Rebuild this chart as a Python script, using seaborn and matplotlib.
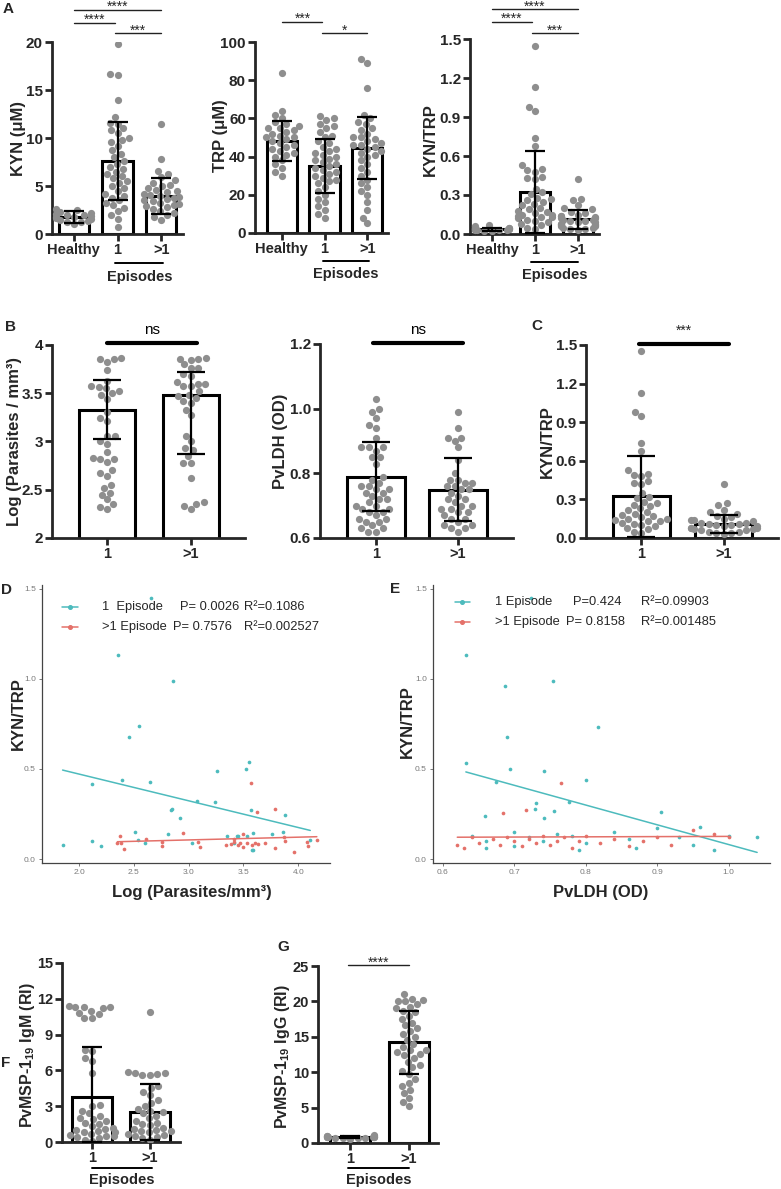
import numpy as np
import pandas as pd
import matplotlib.pyplot as plt
import matplotlib.transforms as mtransforms
from matplotlib.lines import Line2D
import seaborn as sns

W, H = 781, 1189

# ---------------- data ----------------
groups3 = ['Healthy', '1', '>1']
groups2 = ['1', '>1']

kyn_healthy = [1.0, 1.2, 1.3, 1.4, 1.5, 1.6, 1.7, 1.8, 1.8, 1.9, 2.0, 2.0, 2.1, 2.2, 2.3, 2.5, 2.6]
kyn_one = [19.8, 16.7, 16.6, 14.0, 12.2, 11.6, 11.5, 11.0, 10.8, 10.5, 10.0, 9.8, 9.6, 9.2, 8.7, 8.3,
           8.0, 7.6, 7.3, 7.0, 6.8, 6.5, 6.2, 6.0, 5.8, 5.5, 5.3, 5.0, 4.8, 4.5, 4.2, 4.0, 3.8, 3.5,
           3.2, 3.0, 2.7, 2.4, 2.0, 1.6, 0.7]
kyn_more = [11.5, 7.8, 6.6, 6.3, 5.9, 5.6, 5.3, 5.1, 5.0, 4.8, 4.6, 4.5, 4.4, 4.2, 4.1, 4.0, 3.9, 3.8,
            3.6, 3.5, 3.4, 3.2, 3.1, 3.0, 2.9, 2.8, 2.6, 2.4, 2.2, 2.0, 1.8, 1.5]
kyn_mean = [1.75, 7.6, 3.95]
kyn_sd = [0.6, 4.05, 1.85]

trp_healthy = [84, 64, 62, 60, 58, 57, 56, 55, 55, 54, 53, 52, 51, 50, 50, 49, 48, 47, 46, 45, 44,
               43, 42, 41, 40, 38, 36, 34, 32, 30]
trp_one = [61, 60, 59, 57, 56, 55, 53, 51, 50, 48, 47, 45, 44, 43, 42, 41, 40, 39, 38, 37, 36, 35,
           34, 33, 32, 31, 30, 29, 28, 27, 26, 24, 22, 20, 18, 16, 14, 12, 10, 8]
trp_more = [91, 89, 76, 62, 60, 58, 57, 55, 54, 52, 50, 50, 49, 48, 47, 46, 46, 45, 44, 43, 42, 41,
            40, 38, 36, 34, 32, 30, 28, 26, 24, 22, 20, 16, 12, 8, 5]
trp_mean = [48.0, 35.2, 44.5]
trp_sd = [10.5, 14.0, 16.2]

kt_healthy = [0.02, 0.03, 0.03, 0.03, 0.04, 0.04, 0.04, 0.05, 0.05, 0.06, 0.02, 0.03, 0.05, 0.07, 0.04]
kt_one = [1.45, 1.13, 0.98, 0.95, 0.74, 0.68, 0.53, 0.50, 0.49, 0.48, 0.44, 0.43, 0.42, 0.35, 0.32,
          0.31, 0.28, 0.27, 0.26, 0.25, 0.23, 0.22, 0.20, 0.19, 0.18, 0.17, 0.16, 0.15, 0.15, 0.14,
          0.13, 0.13, 0.12, 0.11, 0.10, 0.09, 0.08, 0.07, 0.05, 0.04]
kt_more = [0.42, 0.27, 0.26, 0.22, 0.20, 0.19, 0.17, 0.16, 0.15, 0.14, 0.14, 0.13, 0.12, 0.12, 0.11,
           0.11, 0.10, 0.10, 0.09, 0.09, 0.08, 0.08, 0.08, 0.07, 0.07, 0.06, 0.06, 0.05, 0.05, 0.04,
           0.04, 0.03]
kt_mean = [0.035, 0.325, 0.112]
kt_sd = [0.015, 0.315, 0.07]

para_one = [3.87, 3.85, 3.86, 3.82, 3.74, 3.63, 3.57, 3.56, 3.55, 3.52, 3.50, 3.48, 3.44, 3.31, 3.24,
            3.21, 3.06, 3.06, 3.00, 2.97, 2.89, 2.83, 2.82, 2.82, 2.79, 2.70, 2.67, 2.64, 2.55, 2.52,
            2.47, 2.45, 2.40, 2.35, 2.32, 2.30]
para_more = [3.87, 3.86, 3.85, 3.84, 3.80, 3.76, 3.76, 3.70, 3.68, 3.62, 3.60, 3.60, 3.58, 3.57, 3.52,
             3.48, 3.47, 3.45, 3.42, 3.40, 3.33, 3.27, 3.06, 3.00, 2.93, 2.91, 2.85, 2.78, 2.78, 2.62,
             2.37, 2.35, 2.33, 2.30]
para_mean = [3.33, 3.48]
para_err_lo = [0.30, 0.61]
para_err_hi = [0.31, 0.24]

ldh_one = [1.03, 1.00, 0.99, 0.97, 0.95, 0.94, 0.91, 0.88, 0.88, 0.88, 0.87, 0.85, 0.85, 0.83, 0.79,
           0.78, 0.77, 0.76, 0.76, 0.75, 0.75, 0.74, 0.74, 0.73, 0.72, 0.72, 0.71, 0.70, 0.70, 0.69,
           0.69, 0.68, 0.68, 0.67, 0.66, 0.66, 0.65, 0.65, 0.64, 0.63, 0.63, 0.62, 0.62]
ldh_more = [0.99, 0.94, 0.91, 0.91, 0.90, 0.88, 0.84, 0.80, 0.78, 0.78, 0.77, 0.77, 0.76, 0.76, 0.75,
            0.75, 0.74, 0.73, 0.72, 0.72, 0.71, 0.70, 0.70, 0.69, 0.69, 0.68, 0.68, 0.67, 0.66, 0.66,
            0.65, 0.64, 0.64, 0.63, 0.63, 0.62]
ldh_mean = [0.789, 0.749]
ldh_sd = [0.107, 0.097]

d_x_one = [2.66, 2.36, 2.86, 2.55, 2.46, 3.55, 3.52, 3.26, 2.39, 2.65, 2.12, 3.08, 3.24, 2.85, 2.84,
           3.57, 3.88, 2.92, 1.85, 2.12, 2.51, 2.54, 2.81, 3.03, 3.35, 3.41, 3.45, 3.53, 3.58, 3.44,
           3.59, 3.76, 3.86, 3.59, 4.11, 2.20, 2.60]
d_y_one = [1.45, 1.13, 0.99, 0.74, 0.675, 0.54, 0.50, 0.49, 0.44, 0.43, 0.415, 0.32, 0.315, 0.28, 0.27,
           0.27, 0.245, 0.23, 0.077, 0.10, 0.15, 0.105, 0.14, 0.09, 0.13, 0.09, 0.125, 0.125, 0.05, 0.13,
           0.145, 0.14, 0.15, 0.05, 0.105, 0.07, 0.09]
d_x_more = [3.57, 3.62, 3.79, 2.35, 2.37, 2.38, 2.41, 2.61, 2.76, 2.76, 2.95, 3.09, 3.10, 3.34, 3.39,
            3.41, 3.45, 3.50, 3.53, 3.58, 3.61, 3.41, 3.47, 3.50, 3.63, 3.70, 3.79, 3.87, 3.88, 3.96,
            4.08, 4.09, 4.17]
d_y_more = [0.42, 0.26, 0.28, 0.09, 0.13, 0.09, 0.055, 0.11, 0.095, 0.075, 0.145, 0.095, 0.065, 0.08,
            0.085, 0.11, 0.08, 0.14, 0.09, 0.08, 0.09, 0.095, 0.09, 0.067, 0.085, 0.09, 0.06, 0.12,
            0.10, 0.04, 0.095, 0.07, 0.105]

e_x_one = [0.632, 0.723, 0.754, 0.687, 0.817, 0.69, 0.632, 0.694, 0.741, 0.674, 0.80, 0.776, 0.73,
           0.729, 0.755, 0.659, 0.741, 0.905, 0.64, 0.66, 0.70, 0.72, 0.74, 0.76, 0.78, 0.80, 0.84,
           0.86, 0.90, 0.93, 0.96, 0.98, 1.00, 1.04, 0.95, 0.66, 0.70, 0.79, 0.87]
e_y_one = [1.13, 1.45, 0.985, 0.96, 0.735, 0.675, 0.53, 0.50, 0.49, 0.425, 0.44, 0.315, 0.31, 0.28,
           0.265, 0.24, 0.23, 0.26, 0.13, 0.10, 0.15, 0.12, 0.10, 0.14, 0.13, 0.09, 0.15, 0.11, 0.17,
           0.12, 0.18, 0.05, 0.13, 0.12, 0.08, 0.06, 0.07, 0.05, 0.06]
e_x_more = [0.765, 0.684, 0.716, 0.62, 0.63, 0.64, 0.65, 0.67, 0.68, 0.69, 0.70, 0.71, 0.72, 0.73,
            0.74, 0.75, 0.76, 0.77, 0.78, 0.79, 0.80, 0.82, 0.84, 0.86, 0.88, 0.90, 0.92, 0.95, 0.98, 1.00]
e_y_more = [0.42, 0.255, 0.27, 0.08, 0.06, 0.12, 0.09, 0.11, 0.08, 0.12, 0.10, 0.07, 0.11, 0.09, 0.13,
            0.08, 0.10, 0.12, 0.06, 0.10, 0.13, 0.09, 0.11, 0.07, 0.10, 0.12, 0.08, 0.16, 0.14, 0.12]

igm_one = [11.4, 11.3, 11.3, 11.3, 11.2, 11.0, 10.8, 10.7, 10.4, 10.4, 7.7, 7.6, 7.0, 6.8, 5.8, 3.1,
           3.0, 2.6, 2.4, 2.2, 2.0, 1.9, 1.8, 1.6, 1.5, 1.3, 1.2, 1.1, 1.0, 0.9, 0.8, 0.8, 0.7, 0.6,
           0.5, 0.5, 0.4, 0.3, 0.2, 0.1]
igm_more = [10.9, 5.9, 5.8, 5.8, 5.7, 5.6, 5.6, 4.7, 4.5, 4.2, 3.9, 3.5, 3.3, 3.0, 2.8, 2.6, 2.5, 2.4,
            2.2, 2.0, 1.8, 1.6, 1.5, 1.4, 1.2, 1.1, 1.0, 0.9, 0.9, 0.8, 0.7, 0.6, 0.5, 0.4, 0.3, 0.2]
igm_mean = [3.8, 2.55]
igm_err_lo = [3.8, 2.38]
igm_err_hi = [4.2, 2.32]

igg_one = [0.6, 0.7, 0.7, 0.75, 0.8, 0.8, 0.8, 0.85, 0.9, 0.9, 0.95, 1.0, 1.0, 1.1, 0.7]
igg_more = [21.0, 20.4, 20.2, 20.1, 20.0, 19.6, 19.2, 19.0, 18.7, 18.5, 18.0, 17.5, 17.0, 16.6, 16.2,
            15.8, 15.4, 15.0, 14.5, 14.0, 13.6, 13.2, 13.1, 12.8, 12.6, 12.4, 12.0, 11.5, 11.0, 10.7,
            10.2, 9.8, 9.0, 8.5, 8.0, 7.5, 7.0, 6.3, 5.8, 5.2]
igg_mean = [0.85, 14.2]
igg_sd = [0.15, 4.5]

# ---------------- style ----------------
sns.set_style('ticks')
plt.rcParams['font.family'] = ['Liberation Sans', 'DejaVu Sans']
plt.rcParams['font.weight'] = 'bold'
plt.rcParams['mathtext.fontset'] = 'custom'
plt.rcParams['mathtext.rm'] = 'Liberation Sans:bold'
plt.rcParams['mathtext.bf'] = 'Liberation Sans:bold'
plt.rcParams['mathtext.it'] = 'Liberation Sans:bold'

GRAY = '#8e8e8e'
TEAL = '#4DBBBD'
RED = '#E4716A'

fig = plt.figure(figsize=(W / 100, H / 100), dpi=100)


def fy(py):
    return 1 - py / H


def panel(box):
    x0, y0, x1, y1 = box
    return fig.add_axes([x0 / W, 1 - y1 / H, (x1 - x0) / W, (y1 - y0) / H])


def bar_panel(box, order, values, means, err, ylim, yticks, ylabels, xlim, width=0.7, capsize=7,
              ticksize=11):
    ax = panel(box)
    df = pd.DataFrame({'grp': np.repeat(order, [len(v) for v in values]),
                       'val': np.concatenate(values)})
    sns.barplot(x=order, y=means, order=order, ax=ax, color='white', edgecolor='black',
                linewidth=2.2, width=width, errorbar=None, saturation=1)
    sns.swarmplot(data=df, x='grp', y='val', order=order, ax=ax, color=GRAY, size=5.2,
                  warn_thresh=1, zorder=3)
    ax.errorbar(range(len(order)), means, yerr=err, fmt='none', ecolor='black',
                elinewidth=1.6, capsize=capsize, capthick=1.6, zorder=5)
    ax.set_xlim(*xlim)
    ax.set_ylim(*ylim)
    ax.set_yticks(yticks)
    ax.set_yticklabels(ylabels)
    ax.set_xlabel('')
    ax.set_ylabel('')
    for s in ['top', 'right']:
        ax.spines[s].set_visible(False)
    for s in ['left', 'bottom']:
        ax.spines[s].set_linewidth(2.0)
    ax.tick_params(width=2.0, length=5, labelsize=ticksize, pad=1.5)
    ax.tick_params(axis='x', labelsize=10.5)
    return ax


def sig(ax, x0, x1, py, text, ty, lw=1.0, size=9, color='#222222'):
    tr = mtransforms.blended_transform_factory(ax.transData, fig.transFigure)
    ax.plot([x0, x1], [fy(py), fy(py)], color=color, lw=lw, transform=tr, clip_on=False)
    ax.text((x0 + x1) / 2, fy(ty), text, transform=tr, ha='center', va='center',
            fontsize=size, fontweight='normal', color='black')


def stars(ax, x0, x1, py, text, cy):
    sig(ax, x0, x1, py, '', cy)
    tr = mtransforms.blended_transform_factory(ax.transData, fig.transFigure)
    ax.text((x0 + x1) / 2, fy(cy + 7), text, transform=tr, ha='center', va='baseline',
            fontsize=10, fontweight='normal')


def episodes(ax, x0, x1, py, ty):
    tr = mtransforms.blended_transform_factory(ax.transData, fig.transFigure)
    ax.plot([x0, x1], [fy(py), fy(py)], color='black', lw=1.4, transform=tr, clip_on=False)
    ax.text((x0 + x1) / 2, fy(ty), 'Episodes', transform=tr, ha='center', va='center',
            fontsize=10.5)


def ylab(px, py, text, size=12):
    fig.text(px / W, fy(py), text, rotation=90, ha='center', va='center', fontsize=size)


def letter(px, py, text):
    fig.text(px / W, fy(py), text, ha='center', va='center', fontsize=11)


# ---------------- panel A ----------------
a1 = bar_panel((52, 42, 183, 234), groups3, [kyn_healthy, kyn_one, kyn_more], kyn_mean, kyn_sd,
               (0, 20), [0, 5, 10, 15, 20], ['0', '5', '10', '15', '20'], (-0.5, 2.5), capsize=7)
stars(a1, 0, 2, 10, '****', 4)
stars(a1, 0, 0.95, 23, '****', 17)
stars(a1, 0.95, 2, 33, '***', 28)
episodes(a1, 0.95, 2.05, 263, 277)
ylab(19, 138, 'KYN (μM)')

a2 = bar_panel((255, 42, 388, 233), groups3, [trp_healthy, trp_one, trp_more], trp_mean, trp_sd,
               (0, 100), [0, 20, 40, 60, 80, 100], ['0', '20', '40', '60', '80', '100'],
               (-0.62, 2.48), capsize=7)
stars(a2, 0.02, 0.95, 22, '***', 16)
stars(a2, 0.95, 2.0, 33, '*', 28)
episodes(a2, 0.97, 2.03, 261, 274)
ylab(221, 136, 'TRP (μM)')

a3 = bar_panel((470, 39, 599, 234), groups3, [kt_healthy, kt_one, kt_more], kt_mean, kt_sd,
               (0, 1.5), [0, 0.3, 0.6, 0.9, 1.2, 1.5], ['0.0', '0.3', '0.6', '0.9', '1.2', '1.5'],
               (-0.51, 2.49), capsize=7)
stars(a3, 0, 2, 9, '****', 4)
stars(a3, 0, 0.93, 22, '****', 16)
stars(a3, 0.93, 2, 33, '***', 28)
episodes(a3, 0.9, 2.0, 262, 275)
ylab(430, 140, 'KYN/TRP')
letter(8, 9, 'A')

# ---------------- panel B / C ----------------
b1 = bar_panel((52, 345, 245, 538), groups2, [para_one, para_more], para_mean,
               [para_err_lo, para_err_hi], (2, 4), [2, 2.5, 3, 3.5, 4],
               ['2', '2.5', '3', '3.5', '4'], (-0.66, 1.65), width=0.67, capsize=10)
sig(b1, 0, 1.07, 343, 'ns', 330, lw=3, size=11, color='black')
ylab(15, 441, 'Log (Parasites / mm³)')

b2 = bar_panel((320, 344, 513, 538), groups2, [ldh_one, ldh_more], ldh_mean, ldh_sd,
               (0.6, 1.2), [0.6, 0.8, 1.0, 1.2], ['0.6', '0.8', '1.0', '1.2'],
               (-0.68, 1.67), width=0.7, capsize=10)
sig(b2, -0.04, 1.06, 343, 'ns', 330, lw=3, size=11, color='black')
ylab(280, 441, 'PvLDH (OD)')

c1 = bar_panel((586, 345, 778, 538), groups2, [kt_one, kt_more], kt_mean[1:], kt_sd[1:],
               (0, 1.5), [0, 0.3, 0.6, 0.9, 1.2, 1.5], ['0.0', '0.3', '0.6', '0.9', '1.2', '1.5'],
               (-0.67, 1.66), width=0.69, capsize=10)
tr = mtransforms.blended_transform_factory(c1.transData, fig.transFigure)
c1.plot([-0.03, 1.06], [fy(344), fy(344)], color='black', lw=3, transform=tr, clip_on=False)
c1.text(0.515, fy(335), '***', transform=tr, ha='center', va='baseline', fontsize=10,
        fontweight='normal')
ylab(547, 442, 'KYN/TRP')
letter(10, 327, 'B')
letter(537, 326, 'C')


# ---------------- panels D / E ----------------
def scatter_panel(box, x1, y1, x2, y2, xlim, xticks):
    ax = panel(box)
    sns.scatterplot(x=x1, y=y1, ax=ax, color=TEAL, s=7, linewidth=0)
    sns.scatterplot(x=x2, y=y2, ax=ax, color=RED, s=7, linewidth=0)
    sns.regplot(x=x1, y=y1, ax=ax, scatter=False, ci=None, color=TEAL, line_kws={'lw': 1.1})
    sns.regplot(x=x2, y=y2, ax=ax, scatter=False, ci=None, color=RED, line_kws={'lw': 1.1})
    ax.set_xlim(*xlim)
    ax.set_ylim(-0.022, 1.52)
    ax.set_xticks(xticks)
    ax.set_xticklabels([f'{t:.1f}' for t in xticks])
    ax.set_yticks([0, 0.5, 1.0, 1.5])
    ax.set_yticklabels(['0.0', '0.5', '1.0', '1.5'])
    ax.set_xlabel('')
    ax.set_ylabel('')
    for s in ['top', 'right']:
        ax.spines[s].set_visible(False)
    for s in ['left', 'bottom']:
        ax.spines[s].set_linewidth(0.9)
        ax.spines[s].set_color('#444444')
    ax.tick_params(width=0.7, length=2.5, labelsize=6, colors='#7a7a7a', pad=2)
    for lbl in ax.get_xticklabels() + ax.get_yticklabels():
        lbl.set_fontweight('normal')
    return ax


d_ax = scatter_panel((42, 585, 330, 863), d_x_one, d_y_one, d_x_more, d_y_more,
                     (1.662, 4.29), [2.0, 2.5, 3.0, 3.5, 4.0])
fig.text(192 / W, fy(893), 'Log (Parasites/mm³)', ha='center', va='center', fontsize=12)
ylab(18, 714, 'KYN/TRP')

e_ax = scatter_panel((433, 585, 770, 863), e_x_one, e_y_one, e_x_more, e_y_more,
                     (0.586, 1.058), [0.6, 0.7, 0.8, 0.9, 1.0])
fig.text(601 / W, fy(893), 'PvLDH (OD)', ha='center', va='center', fontsize=12)
ylab(407, 722, 'KYN/TRP')

legend_rows = {
    'D': [(607, TEAL, '1  Episode', 'P= 0.0026', 'R²=0.1086'),
          (627, RED, '>1 Episode', 'P= 0.7576', 'R²=0.002527')],
    'E': [(602, TEAL, '1 Episode', 'P=0.424', 'R²=0.09903'),
          (622, RED, '>1 Episode', 'P= 0.8158', 'R²=0.001485')],
}
legend_x = {'D': (62, 78, 102, (180, 173), 244), 'E': (455, 470, 495, (573, 566), 641)}
for key, rows in legend_rows.items():
    hx0, hx1, tx, px_list, rx = legend_x[key]
    for i, (py, col, lab, ptxt, rtxt) in enumerate(rows):
        fig.add_artist(Line2D([hx0 / W, hx1 / W], [fy(py), fy(py)], color=col, lw=1.1,
                              transform=fig.transFigure))
        fig.add_artist(Line2D([(hx0 + hx1) / 2 / W], [fy(py)], color=col, marker='o', ms=2.6,
                              lw=0, transform=fig.transFigure))
        for x, t in [(tx, lab), (px_list[i], ptxt), (rx, rtxt)]:
            fig.text(x / W, fy(py), t, ha='left', va='center', fontsize=9.3,
                     fontweight='normal')
letter(7, 590, 'D')
letter(395, 589, 'E')

# ---------------- panels F / G ----------------
f_ax = bar_panel((62, 963, 180, 1142), groups2, [igm_one, igm_more], igm_mean,
                 [igm_err_lo, igm_err_hi], (0, 15), [0, 3, 6, 9, 12, 15],
                 ['0', '3', '6', '9', '12', '15'], (-0.52, 1.52), width=0.69, capsize=7,
                 ticksize=10.5)
episodes(f_ax, 0.0, 1.03, 1168, 1180)
ylab(28, 1055, 'PvMSP-1$_{19}$ IgM (RI)', size=11.5)
letter(6, 1063, 'F')

g_ax = bar_panel((318, 966, 438, 1143), groups2, [igg_one, igg_more], igg_mean, igg_sd,
                 (0, 25), [0, 5, 10, 15, 20, 25], ['0', '5', '10', '15', '20', '25'],
                 (-0.55, 1.50), width=0.69, capsize=7, ticksize=10.5)
stars(g_ax, -0.03, 1.0, 965, '****', 960)
episodes(g_ax, -0.03, 1.0, 1168, 1180)
ylab(283, 1057, 'PvMSP-1$_{19}$ IgG (RI)', size=11.5)
letter(283, 947, 'G')

fig.savefig('out.png', dpi=100)
